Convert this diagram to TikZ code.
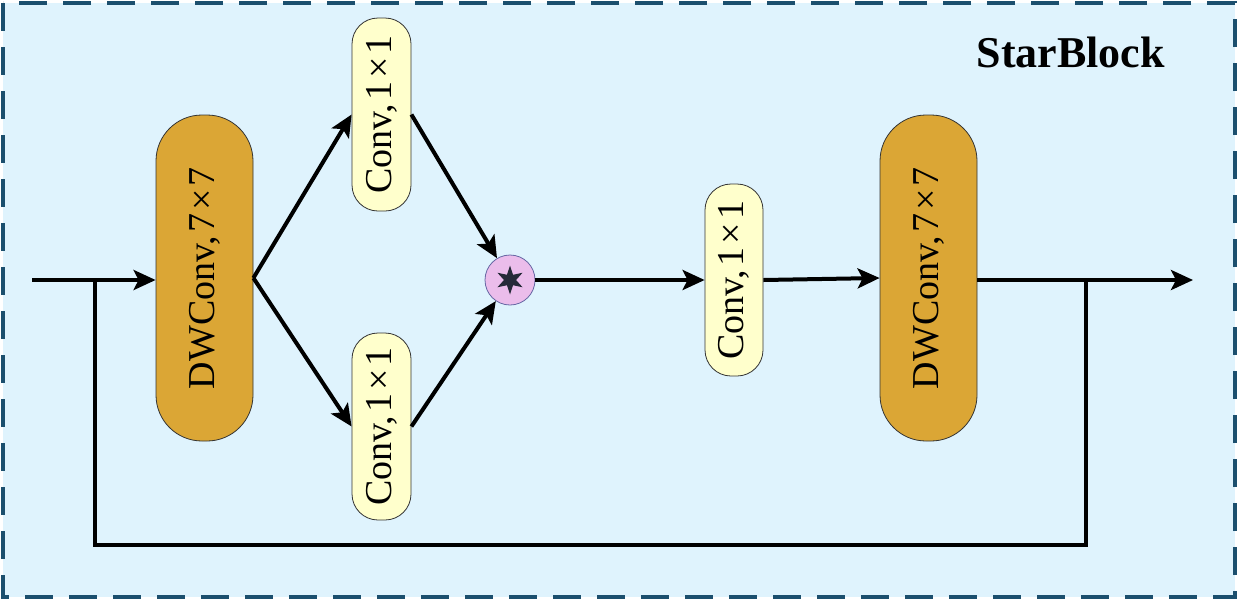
\documentclass[tikz,border=0pt]{standalone}
\usepackage{fontspec}
\setmainfont{Liberation Serif}
\usetikzlibrary{arrows.meta,shapes.geometric}
\definecolor{bgblue}{HTML}{DFF3FD}
\definecolor{borderblue}{HTML}{1B4F6E}
\definecolor{dwfill}{HTML}{DBA635}
\definecolor{convfill}{HTML}{FFFFCC}
\definecolor{starfill}{HTML}{EBBDEB}
\definecolor{stardark}{HTML}{252A38}
\newcommand{\tms}{\hspace{0.08em}×\hspace{0.08em}}
\tikzset{
  dwbox/.style={draw=black!80, line width=0.8pt, fill=dwfill, rounded corners=46pt,
    minimum width=97pt, minimum height=326pt, inner sep=0pt,
    font=\fontsize{38}{42}\selectfont},
  convbox/.style={draw=black!80, line width=0.8pt, fill=convfill, rounded corners=26pt,
    minimum width=59pt, inner sep=0pt, font=\fontsize{38}{42}\selectfont},
  flow/.style={line width=4pt, -{Stealth[length=22pt,width=20pt,inset=5pt]}},
  plain/.style={line width=4pt},
}
\begin{document}
\begin{tikzpicture}[x=1pt,y=-1pt]
\useasboundingbox (0,0) rectangle (1238,600);
\fill[bgblue] (3,3) rectangle (1235,597);
\draw[borderblue, line width=3.2pt, dash pattern=on 28pt off 16pt] (3,3) rectangle (1235,597);

\node[font=\bfseries\fontsize{44}{50}\selectfont, anchor=base west] (title) at (973,67) {StarBlock};

\node[dwbox] (d1) at (204.5,278) {\rotatebox{90}{DWConv,\hspace{0.1em}7\tms7}};
\node[convbox, minimum height=193pt] (ct) at (381.5,114.5) {\rotatebox{90}{Conv,\hspace{0.1em}1\tms1}};
\node[convbox, minimum height=187pt] (cb) at (381.5,426.5) {\rotatebox{90}{Conv,\hspace{0.1em}1\tms1}};
\node[circle, draw=black!60!blue!60, line width=0.8pt, fill=starfill, minimum size=50pt, inner sep=0pt] (st) at (510,280) {};
\node[star, star points=6, star point ratio=2.4, fill=stardark, minimum size=29pt, inner sep=0pt] (stsym) at (510,280) {};
\node[convbox, minimum height=192pt, minimum width=58pt] (cm) at (734,280) {\rotatebox{90}{Conv,\hspace{0.1em}1\tms1}};
\node[dwbox] (d2) at (928.5,278) {\rotatebox{90}{DWConv,\hspace{0.1em}7\tms7}};

\coordinate (in) at (32,280);
\coordinate (out) at (1193,280);
\coordinate (sk1) at (95,280);
\coordinate (sk2) at (1086,280);
\coordinate (b1) at (95,545);

\draw[flow] (in) -- (d1.west |- in);
\draw[flow] (d1.east) -- (ct.west);
\draw[flow] (d1.east) -- (cb.west);
\draw[flow] (ct.east) -- (st);
\draw[flow] (cb.east) -- (st);
\draw[flow] (st) -- (cm.west);
\draw[flow] (cm.east) -- (d2.west);
\draw[flow] (d2.east |- out) -- (out);
\draw[plain] (sk1) -- (b1) -| (sk2);
\end{tikzpicture}
\end{document}
